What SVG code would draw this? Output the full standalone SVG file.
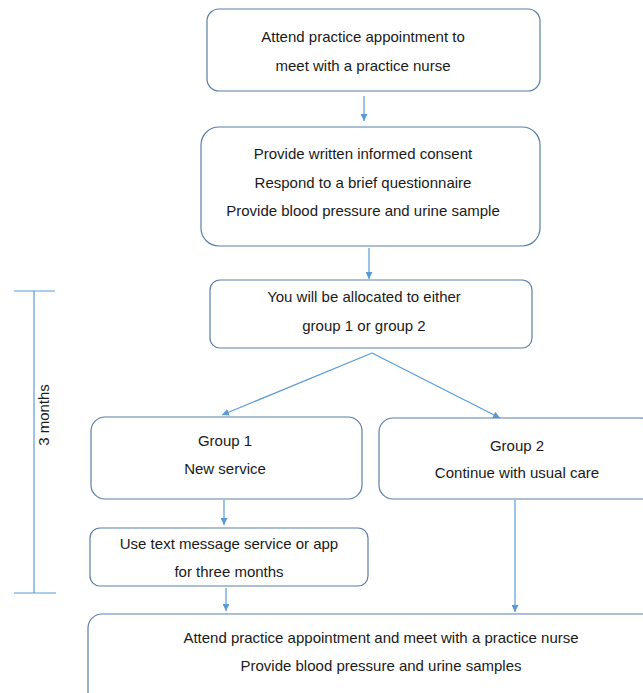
<svg xmlns="http://www.w3.org/2000/svg" width="643" height="693" viewBox="0 0 643 693">
<defs>
<marker id="ah" viewBox="0 0 10 10" refX="10" refY="5" markerWidth="7" markerHeight="7" orient="auto" markerUnits="userSpaceOnUse">
<path d="M0,0 L10,5 L0,10 z" fill="#5B9BD5"/>
</marker>
<style>
.box{fill:#fff;stroke:#5A7EA8;stroke-width:1.2}
.t{font-family:"Liberation Sans",Arial,sans-serif;font-size:15px;fill:#1a1a1a;text-anchor:middle;dominant-baseline:central}
.c{stroke:#5B9BD5;stroke-width:1.2;fill:none;marker-end:url(#ah)}
.b{stroke:#5B9BD5;stroke-width:1.2;fill:none}
</style>
</defs>
<rect width="643" height="693" fill="#fff"/>
<g id="connectors">
<line class="c" x1="364" y1="96" x2="364" y2="121"/>
<line class="c" x1="369" y1="248" x2="369" y2="279"/>
<line class="c" x1="372" y1="353" x2="222" y2="415"/>
<line class="c" x1="372" y1="353" x2="500" y2="418"/>
<line class="c" x1="224" y1="500" x2="224" y2="525"/>
<line class="c" x1="226" y1="588" x2="226" y2="611"/>
<line class="c" x1="515" y1="500" x2="515" y2="612"/>
</g>
<g id="bracket">
<line class="b" x1="34" y1="291" x2="34" y2="593"/>
<line class="b" x1="14" y1="291" x2="55" y2="291"/>
<line class="b" x1="14" y1="593" x2="56" y2="593"/>
<text class="t" transform="translate(43,415) rotate(-90)">3 months</text>
</g>
<g id="n1">
<rect class="box" x="207" y="9" width="333" height="82" rx="12"/>
<text class="t" x="363" y="36">Attend practice appointment to</text>
<text class="t" x="363" y="65">meet with a practice nurse</text>
</g>
<g id="n2">
<rect class="box" x="201" y="127" width="339" height="119" rx="18"/>
<text class="t" x="363" y="153">Provide written informed consent</text>
<text class="t" x="363" y="182">Respond to a brief questionnaire</text>
<text class="t" x="363" y="210">Provide blood pressure and urine sample</text>
</g>
<g id="n3">
<rect class="box" x="210" y="280" width="322" height="68" rx="10"/>
<text class="t" x="364" y="296">You will be allocated to either</text>
<text class="t" x="364" y="325">group 1 or group 2</text>
</g>
<g id="g1">
<rect class="box" x="91" y="417" width="271" height="82" rx="14"/>
<text class="t" x="225" y="440">Group 1</text>
<text class="t" x="225" y="468">New service</text>
</g>
<g id="g2">
<rect class="box" x="379" y="418" width="276" height="81" rx="14"/>
<text class="t" x="517" y="445">Group 2</text>
<text class="t" x="517" y="472">Continue with usual care</text>
</g>
<g id="n4">
<rect class="box" x="90" y="528" width="278" height="58" rx="10"/>
<text class="t" x="229" y="543">Use text message service or app</text>
<text class="t" x="229" y="571">for three months</text>
</g>
<g id="n5">
<rect class="box" x="88" y="614" width="584" height="95" rx="14"/>
<text class="t" x="381" y="637">Attend practice appointment and meet with a practice nurse</text>
<text class="t" x="381" y="665">Provide blood pressure and urine samples</text>
</g>
</svg>
